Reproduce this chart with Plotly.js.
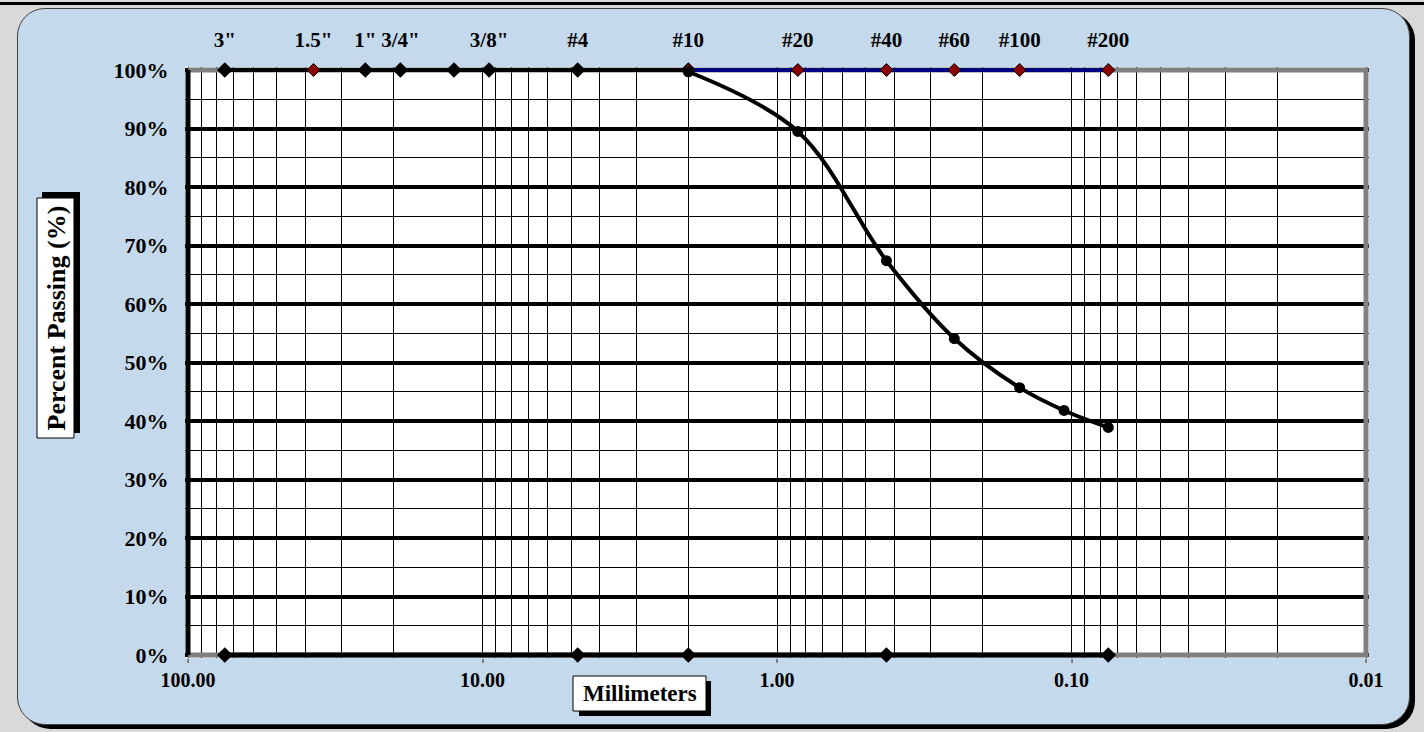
<!DOCTYPE html>
<html>
<head>
<meta charset="utf-8">
<script src="https://cdn.plot.ly/plotly-3.0.1.min.js"></script>
<style>
  html, body { margin:0; padding:0; width:1424px; height:732px; overflow:hidden; background:#d9d9d9; }
  #topbar { position:absolute; left:0; top:2px; width:1424px; height:3px; background:#000; }
  #frame { position:absolute; left:17px; top:8px; width:1393px; height:717px; box-sizing:border-box;
           background:#c5d9ec; border:1px solid #404040; border-radius:28px; box-shadow:5px 4px 0 #000; }
  #chart { position:absolute; left:0; top:0; width:1424px; height:732px; }
</style>
</head>
<body>
<div id="topbar"></div>
<div id="frame"></div>
<div id="chart"></div>
<script>
// ---- data ----
const sieveSizes  = [75, 37.5, 25, 19, 9.5, 4.75, 2.0, 0.85, 0.425, 0.25, 0.15, 0.075];
const sieveLabels = ['3"', '1.5"', '1"', '3/4"', '3/8"', '#4', '#10', '#20', '#40', '#60', '#100', '#200'];

const topBlackX = [75, 25, 19, 12.5, 9.5, 4.75, 2.0];
const topBlackY = [100, 100, 100, 100, 100, 100, 100];

const topNavyX = [2.0, 0.85, 0.425, 0.25, 0.15, 0.075];
const topNavyY = [100, 100, 100, 100, 100, 100];

const topRedX = [37.5, 2.0, 0.85, 0.425, 0.25, 0.15, 0.075];
const topRedY = [100, 100, 100, 100, 100, 100, 100];

const bottomX = [75, 4.75, 2.0, 0.425, 0.075];
const bottomY = [0, 0, 0, 0, 0];

const grainSize   = [2.0, 0.85, 0.425, 0.25, 0.15, 0.106, 0.075];
const pctPassing  = [99.7, 89.5, 67.4, 54.1, 45.7, 41.8, 38.9];

const xTickVals  = [100, 10, 1, 0.1, 0.01];
const xTickText  = ['100.00', '10.00', '1.00', '0.10', '0.01'];
const xMinorVals = [90,80,70,60,50,40,30,20, 9,8,7,6,5,4,3,2, 0.9,0.8,0.7,0.6,0.5,0.4,0.3,0.2,
                    0.09,0.08,0.07,0.06,0.05,0.04,0.03,0.02];
const yTickVals  = [0,10,20,30,40,50,60,70,80,90,100];
const yTickText  = ['0%','10%','20%','30%','40%','50%','60%','70%','80%','90%','100%'];
const yMinorVals = [5,15,25,35,45,55,65,75,85,95];

// ---- geometry ----
const W = 1424, H = 732;
const M = {l:185, r:55, t:67, b:74};
const PW = W - M.l - M.r, PH = H - M.t - M.b;
const PAD = 3;                    // px of padding around the frame
const decadePx = (PW - 2*PAD) / 4;
const pctPx = (PH - 2*PAD) / 100;
const xRange = [2 + PAD/decadePx, -2 - PAD/decadePx];
const yRange = [-PAD/pctPx, 100 + PAD/pctPx];
const px = v => (v - M.l) / PW;
const py = v => (H - M.b - v) / PH;

const FONT = 'Liberation Serif, "Times New Roman", serif';

const xMax = xTickVals[0], xMin = xTickVals[xTickVals.length - 1];
const yMin = yTickVals[0], yMax = yTickVals[yTickVals.length - 1];

const traces = [
  // frame (gray top/right/bottom, black left) drawn above the grid, below the data
  { x: [xMax, xMin, xMin, xMax], y: [yMax, yMax, yMin, yMin], mode: 'lines', hoverinfo: 'skip',
    line: {color: '#808080', width: 5} },
  { x: [xMax, xMax], y: [yMin, yMax], mode: 'lines', hoverinfo: 'skip',
    line: {color: '#000', width: 5} },
  { x: topBlackX, y: topBlackY, mode: 'lines+markers', cliponaxis: false, hoverinfo: 'skip',
    line: {color: '#000', width: 4},
    marker: {symbol: 'diamond', size: 12, color: '#000'} },
  { x: topNavyX, y: topNavyY, mode: 'lines', cliponaxis: false, hoverinfo: 'skip',
    line: {color: '#000080', width: 4} },
  { x: topRedX, y: topRedY, mode: 'markers', cliponaxis: false, hoverinfo: 'skip',
    marker: {symbol: 'diamond', size: 10, color: '#8b0000', line: {color: '#000', width: 1}} },
  { x: bottomX, y: bottomY, mode: 'lines+markers', cliponaxis: false, hoverinfo: 'skip',
    line: {color: '#000', width: 5},
    marker: {symbol: 'diamond', size: 12, color: '#000'} },
  // gradation curve, on the top (sieve-label) axis so that axis is drawn
  { x: grainSize, y: pctPassing, xaxis: 'x2', mode: 'lines+markers', cliponaxis: false,
    line: {color: '#000', width: 4, shape: 'spline', smoothing: 1},
    marker: {symbol: 'circle', size: 11, color: '#000'} }
];

const layout = {
  width: W, height: H,
  margin: M,
  paper_bgcolor: 'rgba(0,0,0,0)',
  plot_bgcolor: '#ffffff',
  showlegend: false,
  xaxis: {
    type: 'log', range: xRange, fixedrange: true,
    tickvals: xTickVals, ticktext: xTickText,
    ticks: 'outside', ticklen: 4, tickwidth: 2, tickcolor: '#808080',
    tickfont: {family: FONT, size: 20, color: '#000', weight: 'bold'},
    showgrid: true, gridcolor: '#000', gridwidth: 1,
    minor: {tickvals: xMinorVals, showgrid: true, gridcolor: '#000', gridwidth: 1, ticks: ''},
    showline: false, zeroline: false
  },
  xaxis2: {
    type: 'log', range: xRange, overlaying: 'x', side: 'top', fixedrange: true,
    tickvals: sieveSizes, ticktext: sieveLabels,
    ticks: 'outside', ticklen: 11, tickcolor: 'rgba(0,0,0,0)',
    tickfont: {family: FONT, size: 21, color: '#000', weight: 'bold'},
    showgrid: false, showline: false, zeroline: false
  },
  yaxis: {
    range: yRange, fixedrange: true,
    tickvals: yTickVals, ticktext: yTickText,
    ticks: 'outside', ticklen: 11, tickcolor: 'rgba(0,0,0,0)',
    tickfont: {family: FONT, size: 22, color: '#000', weight: 'bold'},
    showgrid: true, gridcolor: '#000', gridwidth: 4,
    minor: {tickvals: yMinorVals, showgrid: true, gridcolor: '#000', gridwidth: 1, ticks: ''},
    showline: false, zeroline: false
  },
  shapes: [
    // y title shadow + box
    {type: 'rect', xref: 'paper', yref: 'paper', x0: px(42), x1: px(80), y0: py(433), y1: py(192),
     fillcolor: '#000', line: {width: 0}, layer: 'above'},
    {type: 'rect', xref: 'paper', yref: 'paper', x0: px(37), x1: px(74), y0: py(438), y1: py(198),
     fillcolor: '#fff', line: {color: '#000', width: 1}, layer: 'above'},
    // x title shadow + box
    {type: 'rect', xref: 'paper', yref: 'paper', x0: px(579), x1: px(711), y0: py(716), y1: py(681),
     fillcolor: '#000', line: {width: 0}, layer: 'above'},
    {type: 'rect', xref: 'paper', yref: 'paper', x0: px(573), x1: px(706), y0: py(711), y1: py(676),
     fillcolor: '#fff', line: {color: '#000', width: 1}, layer: 'above'}
  ],
  annotations: [
    {text: 'Percent Passing (%)', xref: 'paper', yref: 'paper', x: px(55.5), y: py(318),
     xanchor: 'center', yanchor: 'middle', textangle: -90, showarrow: false,
     font: {family: FONT, size: 26, color: '#000', weight: 'bold'}},
    {text: 'Millimeters', xref: 'paper', yref: 'paper', x: px(639.5), y: py(693.5),
     xanchor: 'center', yanchor: 'middle', showarrow: false,
     font: {family: FONT, size: 23, color: '#000', weight: 'bold'}}
  ]
};

Plotly.newPlot('chart', traces, layout, {displayModeBar: false, staticPlot: true});
</script>
</body>
</html>
